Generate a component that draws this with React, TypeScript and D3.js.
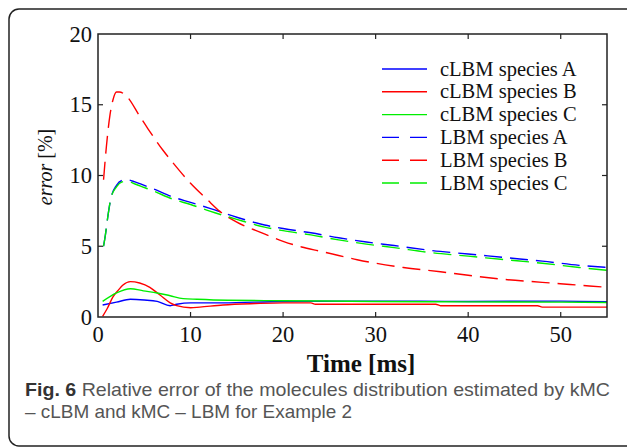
import React from "react";
import * as d3 from "d3";

// ---- data ----
const xTicks = [0, 10, 20, 30, 40, 50];
const yTicks = [0, 5, 10, 15, 20];

const lbmBTime = [0.6, 0.9, 1.3, 1.6, 2.0, 2.3, 3.1, 4.5, 5.4, 7.0, 8.1, 10, 11.8, 13.2, 15, 17.5, 20, 22, 24, 26, 28, 30, 33, 37, 40, 44, 48, 51, 55];
const lbmBVal = [9.7, 12, 14.3, 15.3, 15.9, 15.9, 15.6, 14.2, 13.3, 11.8, 10.9, 9.45, 8.3, 7.45, 6.7, 6.0, 5.35, 4.95, 4.65, 4.35, 4.05, 3.8, 3.5, 3.2, 2.95, 2.65, 2.45, 2.3, 2.1];

const lbmACTime = [0.6, 0.8, 1.0, 1.4, 2.0, 2.6, 3.1, 4, 5, 6, 8, 10, 12, 15, 18, 20, 23, 26, 29, 32, 36, 40, 44, 48, 52, 55];
const lbmAVal = [5.0, 5.8, 6.8, 8.4, 9.3, 9.65, 9.7, 9.55, 9.3, 9.05, 8.5, 8.1, 7.7, 7.05, 6.5, 6.25, 5.95, 5.6, 5.3, 5.05, 4.7, 4.45, 4.2, 3.95, 3.65, 3.5];
const lbmCVal = [5.0, 5.8, 6.8, 8.4, 9.2, 9.55, 9.6, 9.4, 9.15, 8.9, 8.35, 7.95, 7.5, 6.9, 6.35, 6.1, 5.8, 5.45, 5.15, 4.9, 4.55, 4.3, 4.05, 3.8, 3.5, 3.3];

const clbmBTime = [0.5, 1, 1.6, 2.2, 2.7, 3.5, 4.5, 5.6, 6.7, 7.8, 8.5, 10, 11, 13.5, 17, 20, 23, 23.5, 36.5, 37, 47.5, 48, 55];
const clbmBVal = [0.05, 0.6, 1.4, 1.9, 2.26, 2.5, 2.4, 2.1, 1.55, 1.0, 0.8, 0.65, 0.7, 0.85, 0.95, 1.0, 1.0, 0.9, 0.9, 0.8, 0.8, 0.7, 0.7];

const clbmATime = [0.5, 2, 3.5, 5, 6.4, 7.8, 8.5, 10, 13.5, 20, 30, 40, 50, 55];
const clbmAVal = [0.85, 1.05, 1.25, 1.2, 1.1, 0.8, 0.9, 1.0, 1.0, 1.1, 1.12, 1.1, 1.12, 1.08];

const clbmCTime = [0.5, 2, 3.5, 4.9, 6.4, 7.8, 9.2, 10.7, 14, 20, 30, 40, 50, 55];
const clbmCVal = [1.1, 1.7, 2.0, 1.85, 1.7, 1.5, 1.3, 1.25, 1.18, 1.15, 1.1, 1.07, 1.05, 1.02];

const legendLabels = ["cLBM species A", "cLBM species B", "cLBM species C", "LBM species A", "LBM species B", "LBM species C"];

const captionBold = "Fig. 6";
const captionLine1 = " Relative error of the molecules distribution estimated by kMC";
const captionLine2 = "\u2013 cLBM and kMC \u2013 LBM for Example 2";

const BLUE = "#0000ff";
const RED = "#ff0000";
const GREEN = "#00ee00";

type Series = { name: string; t: number[]; v: number[]; color: string; dashed: boolean };
const series: Series[] = [
  { name: legendLabels[0], t: clbmATime, v: clbmAVal, color: BLUE, dashed: false },
  { name: legendLabels[1], t: clbmBTime, v: clbmBVal, color: RED, dashed: false },
  { name: legendLabels[2], t: clbmCTime, v: clbmCVal, color: GREEN, dashed: false },
  { name: legendLabels[3], t: lbmACTime, v: lbmAVal, color: BLUE, dashed: true },
  { name: legendLabels[4], t: lbmBTime, v: lbmBVal, color: RED, dashed: true },
  { name: legendLabels[5], t: lbmACTime, v: lbmCVal, color: GREEN, dashed: true },
];

const W = 627;
const H = 447;
const L = 98, R = 607, T = 34, B = 317;
const SERIF = "'Liberation Serif', 'Times New Roman', serif";
const SANS = "'Liberation Sans', Arial, sans-serif";

export default function App() {
  const x = d3.scaleLinear().domain([0, 55]).range([L, R]);
  const y = d3.scaleLinear().domain([0, 20]).range([B, T]);
  const line = d3
    .line<[number, number]>()
    .x((d) => x(d[0]))
    .y((d) => y(d[1]))
    .curve(d3.curveMonotoneX);

  const axisColor = "#222";
  return (
    <svg
      width={W}
      height={H}
      style={{ position: "absolute", left: 0, top: 0, background: "#fff" }}
    >
      <rect x={9} y={9} width={660} height={437} rx={10} ry={10} fill="none" stroke="#222" strokeWidth={1.5} />

      <defs>
        <clipPath id="plotclip">
          <rect x={L} y={T} width={R - L} height={B - T} />
        </clipPath>
      </defs>

      {/* series */}
      <g clipPath="url(#plotclip)">
        {series.map((s, i) => (
          <path
            key={i}
            d={line(s.t.map((t, j) => [t, s.v[j]] as [number, number])) || ""}
            fill="none"
            stroke={s.color}
            strokeWidth={1.4}
            strokeDasharray={s.dashed ? "18,8" : undefined}
          />
        ))}
      </g>

      {/* frame */}
      <rect x={L} y={T} width={R - L} height={B - T} fill="none" stroke={axisColor} strokeWidth={1.5} />

      {/* ticks */}
      {xTicks.slice(1).map((t) => (
        <g key={"xt" + t}>
          <line x1={x(t)} x2={x(t)} y1={B} y2={B - 5} stroke={axisColor} strokeWidth={1.2} />
          <line x1={x(t)} x2={x(t)} y1={T} y2={T + 5} stroke={axisColor} strokeWidth={1.2} />
        </g>
      ))}
      {yTicks.slice(1, -1).map((t) => (
        <g key={"yt" + t}>
          <line x1={L} x2={L + 5} y1={y(t)} y2={y(t)} stroke={axisColor} strokeWidth={1.2} />
          <line x1={R} x2={R - 5} y1={y(t)} y2={y(t)} stroke={axisColor} strokeWidth={1.2} />
        </g>
      ))}
      {xTicks.map((t) => (
        <text key={"xl" + t} x={x(t)} y={342} textAnchor="middle" fontFamily={SERIF} fontSize={22.5} fill="#111">
          {t}
        </text>
      ))}
      {yTicks.map((t) => (
        <text key={"yl" + t} x={92} y={y(t) + 7.5} textAnchor="end" fontFamily={SERIF} fontSize={22.5} fill="#111">
          {t}
        </text>
      ))}

      {/* axis titles */}
      <text
        x={361}
        y={372}
        textAnchor="middle"
        fontFamily={SERIF}
        fontWeight="bold"
        fontSize={25}
        fill="#111"
      >
        Time [ms]
      </text>
      <text
        transform="translate(52,167) rotate(-90)"
        textAnchor="middle"
        fontFamily={SERIF}
        fontSize={20}
        fill="#111"
      >
        <tspan fontStyle="italic">error</tspan>
        <tspan> [%]</tspan>
      </text>

      {/* legend */}
      {series.map((s, i) => {
        const cy = 69 + i * 22.8;
        return (
          <g key={"lg" + i}>
            <line
              x1={382}
              x2={427}
              y1={cy}
              y2={cy}
              stroke={s.color}
              strokeWidth={1.4}
              strokeDasharray={s.dashed ? "17,11" : undefined}
            />
            <text x={440} y={cy + 6.5} fontFamily={SERIF} fontSize={20.5} fill="#111">
              {s.name}
            </text>
          </g>
        );
      })}

      {/* caption */}
      <text x={25} y={396} fontFamily={SANS} fontSize={19} fill="#555" textLength={585} lengthAdjust="spacingAndGlyphs">
        <tspan fontWeight="bold" fill="#333">{captionBold}</tspan>
        <tspan>{captionLine1}</tspan>
      </text>
      <text x={25} y={418} fontFamily={SANS} fontSize={19} fill="#555" textLength={327} lengthAdjust="spacingAndGlyphs">
        {captionLine2}
      </text>
    </svg>
  );
}
